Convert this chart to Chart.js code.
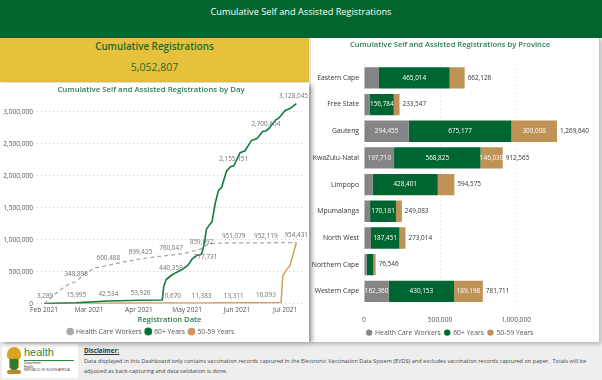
<!DOCTYPE html>
<html><head><meta charset="utf-8">
<script src="https://cdn.jsdelivr.net/npm/chart.js@4.4.1/dist/chart.umd.min.js"></script>
<style>
*{margin:0;padding:0;box-sizing:border-box}
body{width:602px;height:380px;overflow:hidden;background:#eeeeee;font-family:'Open Sans',sans-serif;position:relative}
#hdr{position:absolute;left:0;top:0;width:602px;height:38px;background:#03662f;color:#fff;text-align:center;font-size:9.2px;line-height:24px}
#kpi{position:absolute;left:0;top:38px;width:309px;height:44px;background:#e6c13b;color:#1f6b2e;text-align:center}
#kpi .t{font-size:9.8px;font-weight:600;position:absolute;top:2px;width:100%}
#kpi .v{font-size:10.5px;position:absolute;top:22px;width:100%}
#lcard{position:absolute;left:0;top:83px;width:309px;height:259px;background:#fff;box-shadow:3px 2px 5px rgba(0,0,0,0.35);z-index:2}
#rcard{position:absolute;left:311px;top:38px;width:289px;height:304px;background:#fff;border-right:1px solid #c8c8c8;box-shadow:1px 2px 4px rgba(0,0,0,0.25);z-index:1}
#lc{position:absolute;left:0;top:82px;z-index:3}
#bc{position:absolute;left:311px;top:38px;z-index:3}
#logo{position:absolute;left:2px;top:344px;width:76px;height:34px;background:#fff}
#arms{position:absolute;left:5px;top:3px;width:14px;height:28px}
#arms .a{position:absolute;left:0;top:0;width:14px;height:12px;border-radius:7px 7px 3px 3px;background:#d7a623}
#arms .b{position:absolute;left:2px;top:11px;width:10px;height:13px;border-radius:2px 2px 6px 6px;background:#2e7d32;border:1px solid #c9a227}
#arms .c{position:absolute;left:0;top:23px;width:14px;height:4px;background:#b8892a;border-radius:2px}
#hl{position:absolute;left:22px;top:2px;font-size:11px;color:#2c8a3c;font-family:'Liberation Sans',sans-serif}
#hline{position:absolute;left:22px;top:16px;width:50px;height:1px;background:#2c8a3c}
#hsm{position:absolute;left:22px;top:18px;font-size:3.2px;line-height:3.6px;color:#333;font-family:'Liberation Sans',sans-serif}
#disc{position:absolute;left:84px;top:346px;width:516px;font-size:5.6px;line-height:10px;color:#444;white-space:nowrap}
#disc b{text-decoration:underline;font-weight:700;color:#333;font-size:6.3px}
</style></head>
<body>
<div id="hdr">Cumulative Self and Assisted Registrations</div>
<div id="kpi"><div class="t">Cumulative Registrations</div><div class="v">5,052,807</div></div>
<div id="lcard"></div>
<div id="rcard"></div>
<canvas id="lc" width="309" height="263"></canvas>
<canvas id="bc" width="289" height="308"></canvas>
<div id="logo"><div id="arms"><div class="a"></div><div class="b"></div><div class="c"></div></div>
<div id="hl">health</div><div id="hline"></div>
<div id="hsm">Department:<br>Health<br>REPUBLIC OF SOUTH AFRICA</div></div>
<div id="disc"><b>Disclaimer:</b><br>Data displayed in this Dashboard only contains vaccination records captured in the Electronic Vaccination Data System (EVDS) and excludes vaccination records captured on paper.&nbsp; Totals will be<br>adjusted as back-capturing and data validation is done.</div>
<script>
// ---------- Data: cumulative registrations by day (day 0 = 1 Feb 2021) ----------
const monthTickDays = [0, 28, 59, 89, 120, 150];
const monthTickLabels = ['Feb 2021', 'Mar 2021', 'Apr 2021', 'May 2021', 'Jun 2021', 'Jul 2021'];
const dayValueTicks = [0, 500000, 1000000, 1500000, 2000000, 2500000, 3000000];

const hcwDays   = [0, 5, 10, 15, 20, 26, 32, 40, 47, 60, 70, 79, 88, 98, 101, 105, 110, 118, 138, 157];
const hcwValues = [0, 110000, 215000, 300000, 348898, 480000, 560000, 600488, 640000, 699425, 735000, 760047, 790000, 859692, 915000, 940000, 948000, 951079, 952119, 954431];
const hcwLabelIdx = [4, 7, 9, 11, 13, 17, 18, 19];

const sixtyDays   = [0, 20, 40, 60, 73.5, 74.5, 76, 79, 82, 86, 89, 90.5, 92, 94, 98, 99, 100, 101, 103, 104.5, 106.5, 108.5, 110.5, 113.5, 116, 118, 122, 125, 129, 132.5, 136, 138, 140, 144, 146, 150, 153, 157];
const sixtyValues = [3289, 15995, 42534, 53926, 58000, 273000, 378000, 440358, 485000, 537000, 591000, 633000, 696000, 740000, 777731, 866000, 988000, 1163000, 1236000, 1279000, 1570000, 1767000, 1820000, 2070000, 2140000, 2155151, 2360000, 2390000, 2550000, 2580000, 2690000, 2700464, 2740000, 2870000, 2900000, 3020000, 3050000, 3128045];
const sixtyLabelIdx = [0, 1, 2, 3, 7, 14, 25, 31, 37];
const sixtyLabelBelow = [14];

const fiftyDays   = [0, 60, 79, 98, 118, 138, 147.5, 148.5, 151, 153, 157];
const fiftyValues = [0, 9000, 10670, 11383, 13311, 16093, 18000, 430000, 537000, 591000, 957000];
const fiftyLabelIdx = [2, 3, 4, 5];

// ---------- Data: registrations by province ----------
const provinces = ['Eastern Cape', 'Free State', 'Gauteng', 'KwaZulu-Natal', 'Limpopo', 'Mpumalanga', 'North West', 'Northern Cape', 'Western Cape'];
const hcwProv   = [98500, 39000, 294455, 197710, 57000, 40000, 46000, 17000, 162360];
const sixtyProv = [465014, 156784, 675177, 568825, 428401, 170181, 187451, 45000, 430153];
const fiftyProv = [98612, 37763, 300008, 146030, 109174, 38902, 39563, 14546, 189198];
const provValueTicks = [0, 500000, 1000000];

const seriesNames = ['Health Care Workers', '60+ Years', '50-59 Years'];

const fmt = v => Math.round(v).toLocaleString('en-US');
const FONT = "'Open Sans', sans-serif";
const pts = (d, v) => d.map((x, i) => ({x: x, y: v[i]}));

const lineLabels = {
  id: 'lineLabels',
  afterDatasetsDraw(chart) {
    const ctx = chart.ctx, area = chart.chartArea;
    ctx.save();
    ctx.font = '6.4px ' + FONT;
    ctx.fillStyle = '#707070';
    ctx.textAlign = 'center'; ctx.textBaseline = 'middle';
    chart.data.datasets.forEach((ds, di) => {
      const meta = chart.getDatasetMeta(di);
      (ds.labelIdx || []).forEach(i => {
        const el = meta.data[i];
        const txt = fmt(ds.data[i].y);
        const w = ctx.measureText(txt).width;
        const x = Math.max(area.left + w / 2, Math.min(el.x, area.right - w / 2 + 6));
        const below = (ds.labelBelow || []).includes(i);
        ctx.fillText(txt, below ? x + 4 : x, below ? el.y + 3 : el.y - 7);
      });
    });
    ctx.restore();
  }
};

new Chart(document.getElementById('lc'), {
  type: 'line',
  data: {
    datasets: [
      {label: seriesNames[0], data: pts(hcwDays, hcwValues), borderColor: '#a9a9a9', backgroundColor: '#a9a9a9', borderWidth: 1.3, borderDash: [4, 3], pointRadius: 0, labelIdx: hcwLabelIdx},
      {label: seriesNames[1], data: pts(sixtyDays, sixtyValues), borderColor: '#137a3c', backgroundColor: '#006b2d', borderWidth: 1.6, pointRadius: 0, labelIdx: sixtyLabelIdx, labelBelow: sixtyLabelBelow},
      {label: seriesNames[2], data: pts(fiftyDays, fiftyValues), borderColor: '#cf9d5c', backgroundColor: '#c9975a', borderWidth: 1.5, pointRadius: 0, labelIdx: fiftyLabelIdx}
    ]
  },
  options: {
    responsive: false, animation: false, devicePixelRatio: 1,
    layout: {padding: {left: 0, right: 7, top: 0, bottom: 0}},
    plugins: {
      title: {display: true, text: 'Cumulative Self and Assisted Registrations by Day', color: '#2e7d4f', font: {family: FONT, size: 7.8, weight: '600'}, padding: {top: 3, bottom: 4.6}},
      legend: {position: 'bottom', labels: {usePointStyle: true, pointStyle: 'circle', boxWidth: 5, boxHeight: 4.5, padding: 4, color: '#555', font: {family: FONT, size: 6.8}}},
      tooltip: {enabled: false}
    },
    scales: {
      x: {
        type: 'linear', min: -4.4, max: 160.5,
        afterBuildTicks: s => { s.ticks = monthTickDays.map(v => ({value: v})); },
        afterFit: s => { s.height = 20.5; },
        ticks: {callback: v => monthTickLabels[monthTickDays.indexOf(v)], color: '#555', font: {family: FONT, size: 6.6}, padding: 2, maxRotation: 0, autoSkip: false},
        grid: {display: false, drawTicks: false}, border: {display: false},
        title: {display: true, text: 'Registration Date', color: '#2e7d4f', font: {family: FONT, size: 7.6, weight: '600'}, padding: {top: 0, bottom: 0}}
      },
      y: {
        min: 0, max: 3200000,
        afterBuildTicks: s => { s.ticks = dayValueTicks.map(v => ({value: v})); },
        afterFit: s => { s.width = 37; },
        ticks: {callback: v => fmt(v), color: '#555', font: {family: FONT, size: 6.6}, padding: 4, autoSkip: false},
        grid: {color: '#c8c8c8', lineWidth: 1, drawTicks: false}, border: {display: false, dash: [1, 3]}
      }
    }
  },
  plugins: [lineLabels]
});

const barLabels = {
  id: 'barLabels',
  afterDatasetsDraw(chart) {
    const ctx = chart.ctx;
    ctx.save();
    ctx.font = '6.4px ' + FONT;
    ctx.textBaseline = 'middle';
    const n = chart.data.labels.length;
    const ends = new Array(n).fill(0);
    chart.data.datasets.forEach((ds, di) => {
      const meta = chart.getDatasetMeta(di);
      meta.data.forEach((el, i) => {
        const left = el.base, right = el.x;
        ends[i] = Math.max(ends[i], right);
        if (right - left >= 20) {
          ctx.fillStyle = '#ffffff'; ctx.textAlign = 'center';
          ctx.fillText(fmt(ds.data[i]), (left + right) / 2, el.y);
        }
      });
    });
    const meta0 = chart.getDatasetMeta(0);
    ctx.fillStyle = '#333'; ctx.textAlign = 'left';
    for (let i = 0; i < n; i++) {
      const tot = chart.data.datasets.reduce((s, ds) => s + ds.data[i], 0);
      ctx.fillText(fmt(tot), ends[i] + 3, meta0.data[i].y);
    }
    ctx.restore();
  }
};

new Chart(document.getElementById('bc'), {
  type: 'bar',
  data: {
    labels: provinces,
    datasets: [
      {label: seriesNames[0], data: hcwProv, backgroundColor: '#858585'},
      {label: seriesNames[1], data: sixtyProv, backgroundColor: '#006631'},
      {label: seriesNames[2], data: fiftyProv, backgroundColor: '#bf9255'}
    ]
  },
  options: {
    indexAxis: 'y', responsive: false, animation: false, devicePixelRatio: 1,
    layout: {padding: {left: 0, right: 11, top: 0, bottom: 0}},
    datasets: {bar: {categoryPercentage: 0.8, barPercentage: 1}},
    plugins: {
      title: {display: true, text: 'Cumulative Self and Assisted Registrations by Province', color: '#2e7d4f', font: {family: FONT, size: 7.6, weight: '600'}, padding: {top: 2, bottom: 15.4}},
      legend: {position: 'bottom', labels: {usePointStyle: true, pointStyle: 'circle', boxWidth: 5, boxHeight: 4.5, padding: 4, color: '#555', font: {family: FONT, size: 6.8}}},
      tooltip: {enabled: false}
    },
    scales: {
      x: {
        stacked: true, min: 0, max: 1480000,
        afterBuildTicks: s => { s.ticks = provValueTicks.map(v => ({value: v})); },
        afterFit: s => { s.height = 20.5; },
        ticks: {callback: v => fmt(v), color: '#555', font: {family: FONT, size: 6.6}, padding: 11, maxRotation: 0, autoSkip: false},
        grid: {color: '#d4d4d4', drawTicks: false}, border: {display: false, dash: [1, 3]}
      },
      y: {
        stacked: true,
        afterFit: s => { s.width = 53; },
        ticks: {color: '#333', font: {family: FONT, size: 6.8}, padding: 5},
        grid: {display: false, drawTicks: false}, border: {display: false}
      }
    }
  },
  plugins: [barLabels]
});
</script>
</body></html>
